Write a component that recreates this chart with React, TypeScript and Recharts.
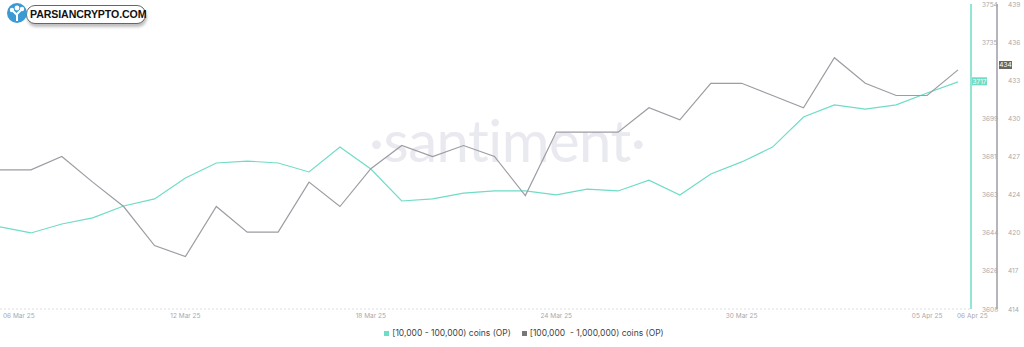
import { LineChart, Line, XAxis, YAxis, ReferenceLine } from "recharts";

const dates = [
  "06 Mar 25", "07 Mar 25", "08 Mar 25", "09 Mar 25", "10 Mar 25", "11 Mar 25", "12 Mar 25", "13 Mar 25",
  "14 Mar 25", "15 Mar 25", "16 Mar 25", "17 Mar 25", "18 Mar 25", "19 Mar 25", "20 Mar 25", "21 Mar 25",
  "22 Mar 25", "23 Mar 25", "24 Mar 25", "25 Mar 25", "26 Mar 25", "27 Mar 25", "28 Mar 25", "29 Mar 25",
  "30 Mar 25", "31 Mar 25", "01 Apr 25", "02 Apr 25", "03 Apr 25", "04 Apr 25", "05 Apr 25", "06 Apr 25",
];

// [10,000 - 100,000) coins (OP)
const smallHolders = [
  3647.3, 3644.4, 3648.7, 3651.6, 3657.3, 3660.7, 3670.7, 3677.9, 3678.8, 3677.9, 3673.6, 3685.5,
  3675.0, 3659.7, 3660.7, 3663.5, 3664.5, 3664.5, 3662.6, 3665.4, 3664.5, 3669.7, 3662.6, 3672.6,
  3678.4, 3685.5, 3699.9, 3705.7, 3703.7, 3705.7, 3711.4, 3716.7,
];

// [100,000 - 1,000,000) coins (OP)
const largeHolders = [
  425.4, 425.4, 426.5, 424.4, 422.4, 419.2, 418.3, 422.4, 420.3, 420.3, 424.4, 422.4,
  425.5, 427.4, 426.5, 427.4, 426.5, 423.3, 428.5, 428.5, 428.5, 430.5, 429.5, 432.5,
  432.5, 431.5, 430.5, 434.6, 432.5, 431.5, 431.5, 433.6,
];

const xTicks = ["06 Mar 25", "12 Mar 25", "18 Mar 25", "24 Mar 25", "30 Mar 25", "05 Apr 25", "06 Apr 25"];
const leftTickLabels = ["3608", "3626", "3644", "3663", "3681", "3699", "3717", "3735", "3754"];
const rightTickLabels = ["414", "417", "420", "424", "427", "430", "433", "436", "439"];
const leftLast = "3717";
const rightLast = "434";

const seriesNames = ["[10,000 - 100,000) coins (OP)", "[100,000  - 1,000,000) coins (OP)"];

const TEAL = "#6fdcc6";
const GREY = "#9c9ca4";
const TICK = "#a9a9ae";

const leftMin = Number(leftTickLabels[0]);
const leftMax = Number(leftTickLabels[leftTickLabels.length - 1]);
const rightMin = Number(rightTickLabels[0]);
const rightMax = Number(rightTickLabels[rightTickLabels.length - 1]);
const evenTicks = (min: number, max: number, n: number) =>
  Array.from({ length: n }, (_, i) => min + ((max - min) * i) / (n - 1));
const leftTicks = evenTicks(leftMin, leftMax, leftTickLabels.length);
const rightTicks = evenTicks(rightMin, rightMax, rightTickLabels.length);

const data = dates.map((d, i) => ({ date: d, small: smallHolders[i], large: largeHolders[i] }));

const XTick = (props: any) => {
  const { x, y, payload } = props;
  const first = payload.value === dates[0];
  const last = payload.value === dates[dates.length - 1];
  return (
    <text
      x={first ? x + 3 : last ? x - 1 : x}
      y={y}
      dy={1}
      textAnchor={first || last ? "start" : "middle"}
      fontSize={6.5}
      fill={TICK}
      fontFamily="Inter, sans-serif"
    >
      {payload.value}
    </text>
  );
};

// the label under a "last value" badge is covered in the original, so it is skipped
const makeYTick = (labels: string[], ticks: number[], hidden: string) => (props: any) => {
  const { x, y, payload } = props;
  const idx = ticks.findIndex((t) => Math.abs(t - payload.value) < 1e-6);
  const label = labels[idx] ?? "";
  if (label === hidden) return <g />;
  return (
    <text x={x + 3} y={y} dy={2.5} textAnchor="start" fontSize={6.5} fill={TICK} fontFamily="Inter, sans-serif">
      {label}
    </text>
  );
};

const Badge = (offset: number, w: number, fill: string, text: string) => (props: any) => {
  const { viewBox } = props;
  if (!viewBox) return null;
  const bx = viewBox.x + viewBox.width + offset;
  const by = viewBox.y;
  return (
    <g>
      <rect x={bx} y={by - 4} width={w} height={8} fill={fill} />
      <text x={bx + w / 2} y={by} dy={2.3} textAnchor="middle" fontSize={6.5} fill="#fff" fontFamily="Inter, sans-serif">
        {text}
      </text>
    </g>
  );
};

const LegendBox = () => (
  <div
    style={{
      position: "absolute", left: 0, top: 328, width: 1024, display: "flex", justifyContent: "center",
      alignItems: "center", gap: 11, fontFamily: "Inter, sans-serif", fontSize: 8.5, color: "#444", paddingLeft: 24,
      boxSizing: "border-box",
    }}
  >
    {seriesNames.map((n, i) => (
      <span key={n} style={{ display: "flex", alignItems: "center", gap: 3, whiteSpace: "pre" }}>
        <span style={{ width: 5, height: 5, background: i === 0 ? TEAL : "#777", display: "inline-block" }} />
        {n}
      </span>
    ))}
  </div>
);

const Logo = () => (
  <div style={{ position: "absolute", left: 6, top: 4, height: 20, display: "flex", alignItems: "center" }}>
    <div
      style={{
        position: "absolute", left: 20, top: 1, width: 118, height: 17, background: "#fff",
        border: "1px solid #666", borderRadius: 9, boxShadow: "1px 3px 3px rgba(0,0,0,0.25)",
      }}
    />
    <svg width={22} height={22} style={{ position: "relative", zIndex: 1 }}>
      <circle cx={11} cy={10} r={10} fill="#3b9ad4" />
      <path d="M11 18 L11 10 M11 12 L7 8 M11 11 L15 7" stroke="#fff" strokeWidth={2} fill="none" />
      <circle cx={6} cy={7} r={2.2} fill="#fff" />
      <circle cx={11} cy={5} r={2.4} fill="#fff" />
      <circle cx={16} cy={6} r={2.2} fill="#fff" />
    </svg>
    <span style={{ position: "relative", zIndex: 1, marginLeft: 2, fontFamily: "'Liberation Sans', Arial, sans-serif", fontWeight: 700, fontSize: 10.6, color: "#111", letterSpacing: -0.1 }}>
      PARSIANCRYPTO.COM
    </span>
  </div>
);

export default function App() {
  return (
    <div style={{ position: "absolute", left: 0, top: 0, width: 1024, height: 347, background: "#fff", overflow: "hidden" }}>
      <div
        style={{
          position: "absolute", left: 369, top: 105, fontFamily: "Lato, 'Open Sans', sans-serif", fontWeight: 400,
          fontSize: 58, lineHeight: "70px", color: "#e9e9f0", letterSpacing: -0.5, whiteSpace: "nowrap",
        }}
      >
        ·santiment·
      </div>
      <LineChart width={1024} height={347} data={data} margin={{ top: 4, right: 0, bottom: 18, left: 0 }} style={{ position: "absolute", left: 0, top: 0 }}>
        <XAxis
          dataKey="date"
          ticks={xTicks}
          interval={0}
          tick={<XTick />}
          tickLine={false}
          axisLine={{ stroke: "#dcdce0", strokeDasharray: "2 2" }}
          height={20}
          padding={{ left: 0, right: 13 }}
        />
        <YAxis
          yAxisId="left"
          orientation="right"
          domain={[leftMin, leftMax]}
          ticks={leftTicks}
          interval={0}
          tick={makeYTick(leftTickLabels, leftTicks, leftLast)}
          tickLine={false}
          axisLine={{ stroke: TEAL, strokeWidth: 1.5 }}
          width={26}
          allowDataOverflow
        />
        <YAxis
          yAxisId="right"
          orientation="right"
          domain={[rightMin, rightMax]}
          ticks={rightTicks}
          interval={0}
          tick={makeYTick(rightTickLabels, rightTicks, "")}
          tickLine={false}
          axisLine={{ stroke: GREY, strokeWidth: 1.5 }}
          width={27}
          allowDataOverflow
        />
        <Line yAxisId="left" type="linear" dataKey="small" stroke={TEAL} strokeWidth={1.2} dot={false} isAnimationActive={false} />
        <Line yAxisId="right" type="linear" dataKey="large" stroke={GREY} strokeWidth={1.2} dot={false} isAnimationActive={false} />
        <ReferenceLine yAxisId="left" y={Number(leftLast)} stroke="none" label={Badge(1, 15, TEAL, leftLast)} />
        <ReferenceLine yAxisId="right" y={Number(rightLast)} stroke="none" label={Badge(28, 13, "#666", rightLast)} />
      </LineChart>
      <LegendBox />
      <Logo />
    </div>
  );
}
